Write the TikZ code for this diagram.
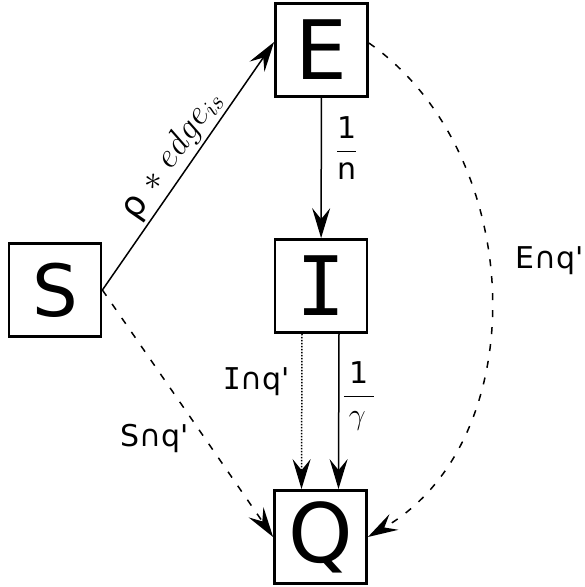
\RequirePackage{fix-cm}
\documentclass[tikz,border=0pt]{standalone}
\usepackage{fontspec}
\setmainfont{DejaVu Sans}[Ligatures=TeXOff]
\newfontfamily\serifI{DejaVu Sans Mono}
\usepackage{tikz}
\usetikzlibrary{positioning, arrows.meta}

\begin{document}
\begin{tikzpicture}[x=1pt, y=1pt,
    box/.style={draw, line width=2.8pt, minimum width=92pt, minimum height=93pt, inner sep=0pt},
    flow/.style={line width=1.5pt, -{Stealth[length=30pt, width=18pt, inset=11pt]}},
    quar/.style={flow, dash pattern=on 7pt off 10pt},
    lbl/.style={font=\fontsize{30}{34}\selectfont, inner sep=3pt}]
  \useasboundingbox (0,0) rectangle (585,587);

  % compartments
  \node[box, font=\fontsize{72}{72}\selectfont] (S) at (55,297) {S};
  \node[box, font=\fontsize{82}{82}\selectfont] (E) at (321.5,537) {E};
  \node[box, font=\fontsize{82}{82}\serifI] (I) at (321,301) {I};
  \node[box, font=\fontsize{82}{82}\selectfont] (Q) at (320.5,50) {Q};

  % transitions
  \draw[flow] (S.east) -- ([yshift=8pt]E.west)
    node[midway, sloped, above, lbl, font=\fontsize{35}{38}\selectfont] {ρ $\ast$\ $edge_{is}$};
  \draw[flow] (E) -- (I)
    node[pos=0.36, right=11pt, lbl] {$\displaystyle\frac{\textup{1}}{\textup{n}}$};
  \draw[flow] ([xshift=18pt]I.south) -- ([xshift=18pt]Q.north)
    node[pos=0.4, right=0pt, lbl] {$\displaystyle\frac{\makebox[1em]{\textup{1}}}{\makebox[1em][l]{\,$\gamma$}}$};
  \draw[flow, dash pattern=on 1.4pt off 1.6pt] ([xshift=-19pt]I.south) -- ([xshift=-19pt]Q.north)
    node[pos=0.31, left=8pt, lbl] {{\serifI I}∩q'};

  % quarantine
  \draw[quar] (S.east) -- (Q.west)
    node[pos=0.53, below left, lbl] {S∩q'};
  \draw[quar] ([yshift=7pt]E.east) to[out=-35, in=30]
    node[pos=0.44, right=23pt, lbl] {E∩q'} (Q.east);
\end{tikzpicture}
\end{document}
